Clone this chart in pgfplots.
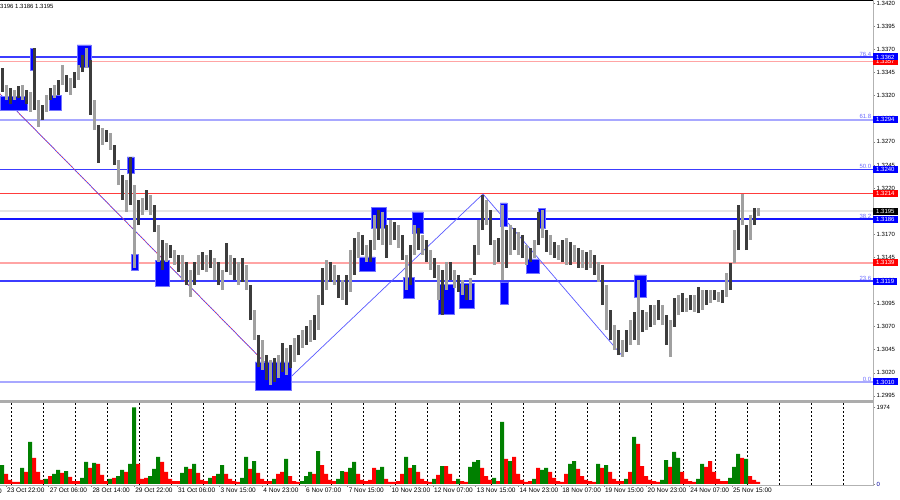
\documentclass[border=0pt]{standalone}
\usepackage{fontspec}
\setmainfont{Liberation Sans}
\usepackage{pgfplots}
\pgfplotsset{compat=1.18}
\usepackage{pgfplotstable}

\definecolor{candledark}{HTML}{3C3C3C}
\definecolor{candlelight}{HTML}{A0A0A0}
\definecolor{fibblue}{HTML}{3C3CFF}
\definecolor{fibdeep}{HTML}{1414FF}
\definecolor{fiblight}{HTML}{A8A8FF}
\definecolor{lvlred}{HTML}{FF3C3C}
\definecolor{lvlpink}{HTML}{FFA4A4}
\definecolor{bidgray}{HTML}{E4E4E4}
\definecolor{boxblue}{HTML}{0000FF}
\definecolor{volgreen}{HTML}{008000}
\definecolor{volred}{HTML}{FF0000}
\definecolor{fibtext}{HTML}{6A6AFF}

% hourly candles, sampled every 4 bars-width: x  low  high
\pgfplotstableread{
x lo hi
2 1.33241 1.33501
6 1.33154 1.33316
10 1.33111 1.33284
14 1.33154 1.33262
18 1.33176 1.33306
22 1.33154 1.33316
26 1.33111 1.33262
30 1.33024 1.33241
34 1.33046 1.33717
38 1.32862 1.33154
42 1.32937 1.33100
46 1.33024 1.33208
50 1.33154 1.33284
54 1.33176 1.33316
58 1.33208 1.33371
62 1.33316 1.33533
66 1.33241 1.33425
70 1.33208 1.33392
74 1.33284 1.33457
78 1.33371 1.33533
82 1.33457 1.33641
86 1.33501 1.33717
90 1.32992 1.33587
94 1.32829 1.33154
98 1.32472 1.32883
102 1.32667 1.32851
106 1.32699 1.32829
110 1.32613 1.32797
114 1.32450 1.32667
118 1.32233 1.32504
122 1.32071 1.32342
126 1.31941 1.32288
130 1.32017 1.32537
134 1.31335 1.32233
138 1.31800 1.32071
142 1.31909 1.32093
146 1.31963 1.32179
150 1.31909 1.32125
154 1.31724 1.32017
158 1.31399 1.31800
162 1.31313 1.31638
166 1.31399 1.31605
170 1.31443 1.31584
174 1.31367 1.31529
178 1.31291 1.31475
182 1.31205 1.31475
186 1.31150 1.31399
190 1.31020 1.31313
194 1.31150 1.31399
198 1.31259 1.31475
202 1.31313 1.31508
206 1.31291 1.31475
210 1.31335 1.31529
214 1.31205 1.31443
218 1.31150 1.31399
222 1.31096 1.31313
226 1.31291 1.31605
230 1.31259 1.31475
234 1.31205 1.31443
238 1.31150 1.31399
242 1.31183 1.31443
246 1.31096 1.31367
250 1.30771 1.31150
254 1.30555 1.30880
258 1.30262 1.30609
262 1.30230 1.30555
266 1.30122 1.30392
270 1.30067 1.30338
274 1.30100 1.30360
278 1.30143 1.30392
282 1.30208 1.30522
286 1.30176 1.30468
290 1.30252 1.30501
294 1.30317 1.30577
298 1.30392 1.30609
302 1.30468 1.30663
306 1.30501 1.30706
310 1.30533 1.30771
314 1.30555 1.30825
318 1.30663 1.31042
322 1.30934 1.31335
326 1.31096 1.31421
330 1.31183 1.31399
334 1.31150 1.31367
338 1.31010 1.31259
342 1.30988 1.31205
346 1.30934 1.31259
350 1.31075 1.31529
354 1.31259 1.31660
358 1.31443 1.31724
362 1.31475 1.31692
366 1.31399 1.31584
370 1.31399 1.31638
374 1.31529 1.31909
378 1.31638 1.31963
382 1.31584 1.31941
386 1.31443 1.31800
390 1.31584 1.31854
394 1.31638 1.31833
398 1.31551 1.31800
402 1.31421 1.31692
406 1.31096 1.31475
410 1.31150 1.31584
414 1.31475 1.31800
418 1.31529 1.31768
422 1.31475 1.31692
426 1.31399 1.31638
430 1.31313 1.31529
434 1.31226 1.31443
438 1.30988 1.31367
442 1.30825 1.31313
446 1.31096 1.31399
450 1.31205 1.31399
454 1.31118 1.31313
458 1.31075 1.31259
462 1.31042 1.31205
466 1.30988 1.31150
470 1.30988 1.31226
474 1.31259 1.31584
478 1.31475 1.31854
482 1.31746 1.32125
486 1.31800 1.32071
490 1.31584 1.31963
494 1.31367 1.31638
498 1.31399 1.31660
502 1.31205 1.32017
506 1.31335 1.31746
510 1.31475 1.31800
514 1.31529 1.31768
518 1.31475 1.31724
522 1.31443 1.31692
526 1.31367 1.31584
530 1.31399 1.31551
534 1.31443 1.31638
538 1.31584 1.31941
542 1.31660 1.31963
546 1.31508 1.31746
550 1.31475 1.31692
554 1.31443 1.31616
558 1.31421 1.31584
562 1.31399 1.31638
566 1.31367 1.31660
570 1.31367 1.31616
574 1.31399 1.31584
578 1.31335 1.31551
582 1.31335 1.31529
586 1.31313 1.31508
590 1.31335 1.31529
594 1.31259 1.31475
598 1.31183 1.31399
602 1.30934 1.31367
606 1.30663 1.31150
610 1.30555 1.30880
614 1.30447 1.30717
618 1.30392 1.30663
622 1.30371 1.30555
626 1.30425 1.30663
630 1.30501 1.30771
634 1.30555 1.30858
638 1.30501 1.31205
642 1.30641 1.30880
646 1.30663 1.30858
650 1.30696 1.30934
654 1.30717 1.30934
658 1.30771 1.30988
662 1.30717 1.30934
666 1.30501 1.30825
670 1.30371 1.30771
674 1.30696 1.31010
678 1.30825 1.31042
682 1.30858 1.31064
686 1.30858 1.31010
690 1.30880 1.31042
694 1.30858 1.31042
698 1.30847 1.31129
702 1.30880 1.31096
706 1.30934 1.31096
710 1.30955 1.31096
714 1.30988 1.31096
718 1.30966 1.31075
722 1.30955 1.31096
726 1.31020 1.31281
730 1.31096 1.31389
734 1.31389 1.31746
738 1.31529 1.32017
742 1.31800 1.32136
746 1.31529 1.31800
750 1.31638 1.31909
754 1.31800 1.31984
758 1.31898 1.31984
}\candles

% tick volume, rising bars
\pgfplotstableread{
x v
2 490
22 413
30 1084
46 129
54 258
58 361
66 335
82 155
86 568
94 542
110 129
118 206
122 361
130 516
134 1974
150 206
154 387
158 697
182 284
186 439
194 516
210 155
218 258
222 490
242 155
246 697
254 593
274 129
286 645
302 77
306 206
310 310
318 851
338 129
342 335
350 413
354 568
378 361
382 439
406 697
414 490
434 129
442 464
458 129
470 439
474 568
478 619
494 155
502 1600
510 593
534 129
542 361
546 413
570 516
574 593
598 516
606 490
626 129
634 1213
662 103
666 619
674 826
678 671
698 129
702 516
730 155
734 439
738 774
746 645
}\greenvol

% tick volume, falling bars
\pgfplotstableread{
x v
6 258
10 103
14 52
18 52
26 310
34 671
38 310
42 103
50 206
62 284
70 181
74 77
78 77
90 413
98 516
102 232
106 77
114 155
126 310
138 516
142 129
146 155
162 568
166 310
170 129
174 77
178 77
190 387
198 284
202 103
206 77
214 206
226 258
230 129
234 77
238 52
250 387
258 284
262 129
266 77
270 77
278 258
282 310
290 206
294 77
298 52
314 258
322 490
326 258
330 103
334 77
346 310
358 258
362 103
366 77
370 103
374 413
386 129
390 52
394 52
398 77
402 258
410 413
418 310
422 129
426 77
430 52
438 232
446 464
450 258
454 77
462 77
466 52
482 413
486 206
490 103
498 77
506 645
514 697
518 258
522 103
526 52
530 77
538 413
550 310
554 155
558 77
562 52
566 258
578 387
582 206
586 103
590 77
594 52
602 413
610 310
614 129
618 77
622 77
630 310
638 1032
642 464
646 206
650 103
654 77
658 52
670 439
682 310
686 129
690 77
694 52
706 439
710 593
714 310
718 129
722 77
726 77
742 671
750 206
754 103
758 52
}\redvol

\pgfplotsset{
  fbox/.style={fill=boxblue, draw=boxblue!55, line width=0.5pt},
}

\begin{document}
\begin{tikzpicture}
\path[use as bounding box, clip] (0pt,0pt) rectangle (900pt,500pt);

% ---------------- price panel ----------------
\begin{axis}[
    at={(0pt,100pt)}, anchor=south west,
    scale only axis, width=873pt, height=400pt,
    xmin=0, xmax=873, ymin=1.29905, ymax=1.34237,
    enlargelimits=false,
    clip=false,
    axis line style={draw=none},
    xtick=\empty,
    minor xtick={11.7,43.7,...,843.7},
    xminorgrids=true,
    minor tick length=0pt,
    minor grid style={black, line width=0.5pt, dash pattern=on 2pt off 2pt},
    ytick={1.2995,1.3020,1.3045,1.3070,1.3095,1.3120,1.3145,1.3170,1.3195,
           1.3220,1.3245,1.3270,1.3295,1.3320,1.3345,1.3370,1.3395,1.3420},
    ytick pos=right,
    yticklabel pos=right,
    tick align=outside,
    major tick length=2pt,
    tick style={draw=gray, line width=0.5pt},
    scaled y ticks=false,
    /pgf/number format/assume math mode=true,
    yticklabel style={/pgf/number format/fixed, /pgf/number format/fixed zerofill,
        /pgf/number format/precision=4, anchor=west, inner sep=1.5pt,
        font=\fontsize{6}{7}\selectfont},
]
% levels
\addplot[draw=fibblue, line width=1.3pt] coordinates {(0,1.3362) (873,1.3362)};
\addplot[draw=lvlpink, line width=1.8pt] coordinates {(0,1.3357) (873,1.3357)};
\addplot[draw=fiblight, line width=1.8pt] coordinates {(0,1.3294) (873,1.3294)};
\addplot[draw=fibblue, line width=1.3pt] coordinates {(0,1.3240) (873,1.3240)};
\addplot[draw=lvlred, line width=1.3pt] coordinates {(0,1.3214) (873,1.3214)};
\addplot[draw=bidgray, line width=1.8pt] coordinates {(0,1.3195) (873,1.3195)};
\addplot[draw=fibdeep, line width=2pt] coordinates {(0,1.3186) (873,1.3186)};
\addplot[draw=lvlpink, line width=1.8pt] coordinates {(0,1.3139) (873,1.3139)};
\addplot[draw=fibblue, line width=1.8pt] coordinates {(0,1.3119) (873,1.3119)};
\addplot[draw=fiblight, line width=1.8pt] coordinates {(0,1.3010) (873,1.3010)};

% zigzag
\addplot[draw=fibblue, line width=0.7pt] coordinates {(0,1.33219) (288,1.30057)};
\addplot[draw=red!70, line width=0.7pt, dash pattern=on 1pt off 1.5pt] coordinates {(0,1.33219) (288,1.30057)};
\addplot[draw=fibblue!85, line width=0.7pt] coordinates {(291,1.30157) (483,1.32136) (623,1.30374)};

% fractal boxes
\addplot[fbox] coordinates {(0,1.33046) (27,1.33046) (27,1.33197) (0,1.33197) (0,1.33046)};
\addplot[fbox] coordinates {(30,1.33479) (35,1.33479) (35,1.33717) (30,1.33717) (30,1.33479)};
\addplot[fbox] coordinates {(77,1.33511) (91,1.33511) (91,1.33750) (77,1.33750) (77,1.33511)};
\addplot[fbox] coordinates {(49,1.33046) (61,1.33046) (61,1.33208) (49,1.33208) (49,1.33046)};
\addplot[fbox] coordinates {(127,1.32363) (134,1.32363) (134,1.32537) (127,1.32537) (127,1.32363)};
\addplot[fbox] coordinates {(131,1.31313) (138,1.31313) (138,1.31486) (131,1.31486) (131,1.31313)};
\addplot[fbox] coordinates {(155,1.31140) (169,1.31140) (169,1.31421) (155,1.31421) (155,1.31140)};
\addplot[fbox] coordinates {(255,1.30013) (291,1.30013) (291,1.30317) (255,1.30317) (255,1.30013)};
\addplot[fbox] coordinates {(371,1.31768) (386,1.31768) (386,1.31995) (371,1.31995) (371,1.31768)};
\addplot[fbox] coordinates {(359,1.31302) (375,1.31302) (375,1.31454) (359,1.31454) (359,1.31302)};
\addplot[fbox] coordinates {(412,1.31714) (423,1.31714) (423,1.31941) (412,1.31941) (412,1.31714)};
\addplot[fbox] coordinates {(403,1.31010) (414,1.31010) (414,1.31237) (403,1.31237) (403,1.31010)};
\addplot[fbox] coordinates {(438,1.30836) (454,1.30836) (454,1.31161) (438,1.31161) (438,1.30836)};
\addplot[fbox] coordinates {(459,1.30901) (474,1.30901) (474,1.31172) (459,1.31172) (459,1.30901)};
\addplot[fbox] coordinates {(500,1.31789) (507,1.31789) (507,1.32039) (500,1.32039) (500,1.31789)};
\addplot[fbox] coordinates {(500,1.30945) (508,1.30945) (508,1.31183) (500,1.31183) (500,1.30945)};
\addplot[fbox] coordinates {(526,1.31281) (539,1.31281) (539,1.31432) (526,1.31432) (526,1.31281)};
\addplot[fbox] coordinates {(538,1.31768) (545,1.31768) (545,1.31984) (538,1.31984) (538,1.31768)};
\addplot[fbox] coordinates {(634,1.31020) (646,1.31020) (646,1.31259) (634,1.31259) (634,1.31020)};

% candles, alternating shades
\addplot[draw=none, x filter/.expression={mod(\coordindex,2)==0 ? x : nan},
    error bars/.cd, y dir=plus, y explicit, error mark=none,
    error bar style={draw=candledark, line width=3pt}]
    table[x=x, y=lo, y error plus expr=\thisrow{hi}-\thisrow{lo}] {\candles};
\addplot[draw=none, x filter/.expression={mod(\coordindex,2)==1 ? x : nan},
    error bars/.cd, y dir=plus, y explicit, error mark=none,
    error bar style={draw=candlelight, line width=3pt}]
    table[x=x, y=lo, y error plus expr=\thisrow{hi}-\thisrow{lo}] {\candles};

% fibonacci level names
\begin{scope}[every node/.style={anchor=south east, text=fibtext, inner sep=0.6pt,
    font=\fontsize{6}{7}\selectfont}]
\node at (axis cs:872,1.3362) {76.4};
\node at (axis cs:872,1.3294) {61.8};
\node at (axis cs:872,1.3240) {50.0};
\node at (axis cs:872,1.3186) {38.2};
\node at (axis cs:872,1.3119) {23.6};
\node at (axis cs:872,1.3010) {0.0};
\end{scope}

\coordinate (b3362) at (axis cs:873,1.3362);
\coordinate (b3357) at (axis cs:873,1.3357);
\coordinate (b3294) at (axis cs:873,1.3294);
\coordinate (b3240) at (axis cs:873,1.3240);
\coordinate (b3214) at (axis cs:873,1.3214);
\coordinate (b3195) at (axis cs:873,1.3195);
\coordinate (b3186) at (axis cs:873,1.3186);
\coordinate (b3139) at (axis cs:873,1.3139);
\coordinate (b3119) at (axis cs:873,1.3119);
\coordinate (b3010) at (axis cs:873,1.3010);
\end{axis}

% ---------------- volume panel ----------------
\begin{axis}[
    at={(0pt,15pt)}, anchor=south west,
    scale only axis, width=873pt, height=82pt,
    xmin=0, xmax=873, ymin=-26, ymax=2090,
    enlargelimits=false,
    axis line style={draw=none},
    xtick={6,48.7,91.4,134.1,176.8,219.5,262.2,304.9,347.6,390.3,433,475.7,
           518.4,561.1,603.8,646.5,689.2,731.9},
    xticklabels={23 Oct 22:00,27 Oct 06:00,28 Oct 14:00,29 Oct 22:00,31 Oct 06:00,
        3 Nov 15:00,4 Nov 23:00,6 Nov 07:00,7 Nov 15:00,10 Nov 23:00,12 Nov 07:00,
        13 Nov 15:00,14 Nov 23:00,18 Nov 07:00,19 Nov 15:00,20 Nov 23:00,
        24 Nov 07:00,25 Nov 15:00},
    xtick pos=bottom,
    xticklabel style={anchor=north west, inner sep=1pt, font=\fontsize{6.5}{7.5}\selectfont},
    minor xtick={11.7,43.7,...,843.7},
    xminorgrids=true,
    minor tick length=0pt,
    minor grid style={black, line width=0.5pt, dash pattern=on 2pt off 2pt},
    ytick={0,1974},
    yticklabels={\textcolor{blue!60!black}{0},1974},
    ytick pos=right,
    yticklabel pos=right,
    yticklabel style={anchor=west, inner sep=1.5pt, font=\fontsize{6}{7}\selectfont},
    tick align=outside,
    major tick length=2pt,
    tick style={draw=gray, line width=0.5pt},
]
\addplot[ybar, bar width=4pt, bar shift=0pt, fill=volred, draw=none] table[x=x, y=v] {\redvol};
\addplot[ybar, bar width=4pt, bar shift=0pt, fill=volgreen, draw=none] table[x=x, y=v] {\greenvol};
\end{axis}

% ---------------- frame ----------------
\draw[black, line width=0.8pt] (0pt,499.6pt) -- (873pt,499.6pt);
\draw[gray!65, line width=2.5pt] (0pt,98.5pt) -- (873pt,98.5pt);
\draw[gray!60, line width=1.4pt] (0pt,14.5pt) -- (874.4pt,14.5pt);
\draw[gray!60, line width=1.4pt] (873.7pt,14.5pt) -- (873.7pt,500pt);

% clipped first time label and the quote line at the top
\node[anchor=north west, inner sep=1pt, font=\fontsize{6.5}{7.5}\selectfont] at (-36.7pt,12.5pt) {22 Oct 14:00};
\node[anchor=west, inner sep=0pt, font=\fontsize{6}{7}\selectfont] at (-5pt,494pt) {1.3196 1.3186 1.3195};

% price boxes on the scale
\begin{scope}[every node/.style={anchor=west, text=white, inner xsep=3pt, inner ysep=0pt,
    minimum height=7pt, font=\fontsize{6}{7}\selectfont}]
\node[fill=volred] at (b3357) {1.3357};
\node[fill=boxblue] at (b3362) {1.3362};
\node[fill=boxblue] at (b3294) {1.3294};
\node[fill=boxblue] at (b3240) {1.3240};
\node[fill=volred] at (b3214) {1.3214};
\node[fill=black] at (b3195) {1.3195};
\node[fill=boxblue] at (b3186) {1.3186};
\node[fill=volred] at (b3139) {1.3139};
\node[fill=boxblue] at (b3119) {1.3119};
\node[fill=boxblue] at (b3010) {1.3010};
\end{scope}
\end{tikzpicture}
\end{document}
